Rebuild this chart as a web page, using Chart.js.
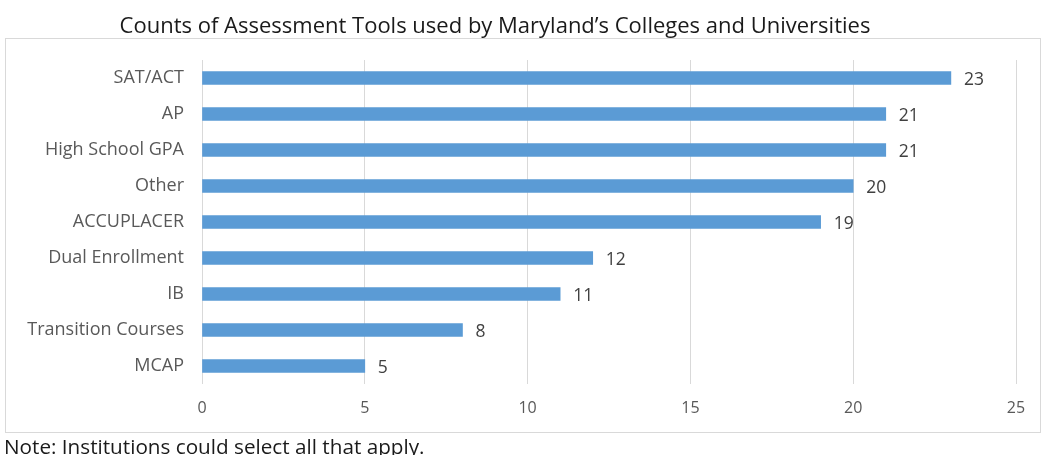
<!DOCTYPE html>
<html><head><meta charset="utf-8">
<script src="https://cdn.jsdelivr.net/npm/chart.js@4"></script>
<style>
html,body{margin:0;padding:0;background:#fff;}
#wrap{position:relative;width:1045px;height:455px;overflow:hidden;font-family:'Open Sans',sans-serif;}
#title{position:absolute;left:0;width:990px;top:9px;text-align:center;font-size:22px;line-height:30px;color:#1a1a1a;white-space:nowrap;}
#box{position:absolute;left:5px;top:38px;width:1034px;height:393px;border:1px solid #d9d9d9;}
#note{position:absolute;left:4px;top:433px;font-size:20.7px;line-height:26px;color:#1a1a1a;white-space:nowrap;}
canvas{position:absolute;left:0;top:0;}
</style></head>
<body><div id="wrap">
<div id="box"></div>
<canvas id="c" width="1045" height="455"></canvas>
<div id="title">Counts of Assessment Tools used by Maryland’s Colleges and Universities</div>
<div id="note">Note: Institutions could select all that apply.</div>
</div>
<script>
const categories = ["SAT/ACT","AP","High School GPA","Other","ACCUPLACER","Dual Enrollment","IB","Transition Courses","MCAP"];
const counts = [23,21,21,20,19,12,11,8,5];
const xTicks = [0,5,10,15,20,25];
const FONT = "'Open Sans', sans-serif";

const valueLabels = {
  id:'valueLabels',
  afterDatasetsDraw(chart){
    const ctx = chart.ctx;
    const meta = chart.getDatasetMeta(0);
    ctx.save();
    ctx.font = "17.5px " + FONT;
    ctx.fillStyle = "#404040";
    ctx.textBaseline = "middle";
    ctx.textAlign = "left";
    meta.data.forEach((bar,i)=>{
      ctx.fillText(String(counts[i]), bar.x + 13, bar.y + 2);
    });
    ctx.restore();
  }
};

new Chart(document.getElementById('c'), {
  type:'bar',
  data:{labels:categories, datasets:[{data:counts, backgroundColor:'#5b9bd5', barThickness:13}]},
  options:{
    indexAxis:'y', responsive:false, animation:false,
    layout:{padding:{left:0,top:60,right:29,bottom:0}},
    plugins:{legend:{display:false}, tooltip:{enabled:false}},
    scales:{
      x:{min:0,max:25,
        afterBuildTicks(s){ s.ticks = xTicks.map(v=>({value:v})); },
        afterFit(s){ s.height = 71; },
        grid:{color:'#d9d9d9', drawTicks:false},
        border:{display:false},
        ticks:{padding:15, color:'#595959', font:{family:FONT,size:16}}
      },
      y:{
        afterFit(s){ s.width = 202; },
        grid:{display:false, drawTicks:false},
        border:{display:false},
        ticks:{padding:18, color:'#595959', font:{family:FONT,size:18}}
      }
    }
  },
  plugins:[valueLabels]
});
</script>
</body></html>
